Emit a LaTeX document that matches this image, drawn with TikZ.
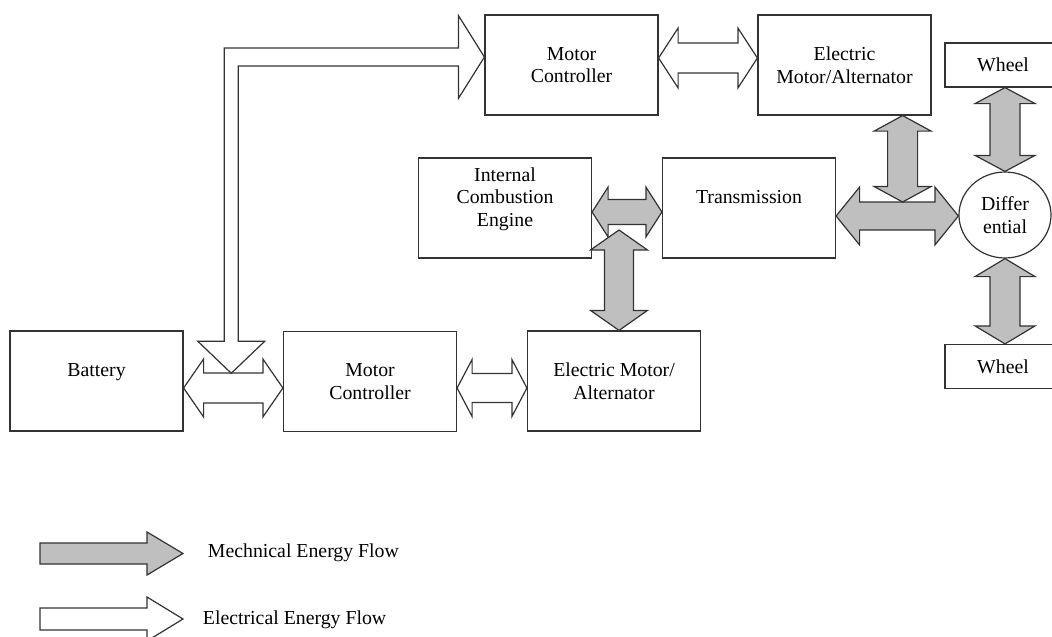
\documentclass[tikz,border=0pt]{standalone}
\usepackage{fontspec}
\setmainfont{Liberation Serif}
\usepackage{tikz}
\usetikzlibrary{shapes,arrows,positioning,calc}

% block arrows: style, first tip, second tip, shaft half, head half, head length
\newcommand{\hflow}[6]{\draw[#1] let \p1=(#2), \p2=(#3) in
  (\x1,\y1) -- (\x1+#6,\y1+#5) -- (\x1+#6,\y1+#4) -- (\x2-#6,\y1+#4) -- (\x2-#6,\y1+#5) -- (\x2,\y1)
  -- (\x2-#6,\y1-#5) -- (\x2-#6,\y1-#4) -- (\x1+#6,\y1-#4) -- (\x1+#6,\y1-#5) -- cycle;}
\newcommand{\vflow}[6]{\draw[#1] let \p1=(#2), \p2=(#3) in
  (\x1,\y1) -- (\x1+#5,\y1-#6) -- (\x1+#4,\y1-#6) -- (\x1+#4,\y2+#6) -- (\x1+#5,\y2+#6) -- (\x1,\y2)
  -- (\x1-#5,\y2+#6) -- (\x1-#4,\y2+#6) -- (\x1-#4,\y1-#6) -- (\x1-#5,\y1-#6) -- cycle;}
\newcommand{\sflow}[6]{\draw[#1] let \p1=(#2), \p2=(#3) in
  (\x1,\y1+#4) -- (\x2-#6,\y1+#4) -- (\x2-#6,\y1+#5) -- (\x2,\y1) -- (\x2-#6,\y1-#5) -- (\x2-#6,\y1-#4) -- (\x1,\y1-#4) -- cycle;}

\begin{document}
\begin{tikzpicture}[x=1pt, y=-1pt, line width=1.2pt,
					every node/.style={font=\fontsize{19.8}{22.5}\selectfont, align=center, text=black},
					block/.style={draw=black!80, rectangle, minimum width=173pt, minimum height=100pt},
					wheelbox/.style={draw=black!80, rectangle, minimum width=116pt, minimum height=44pt},
					lifted/.style={text depth=22pt},
					mech/.style={draw=black!80, fill=black!25, line join=miter},
					elec/.style={draw=black!80, fill=white, line join=miter}]
					\useasboundingbox (0,0) rectangle (1052,637);
					% blocks
					\node[block] (mct) at (571.5,65) {Motor\\Controller};
					\node[block] (emt) at (844.5,65) {Electric\\Motor/Alternator};
					\node[wheelbox] (wht) at (1003,65) {Wheel};
					\node[block, lifted] (ice) at (505,208) {Internal\\Combustion\\Engine};
					\node[block, lifted] (trans) at (749,208) {Transmission};
					\node[draw=black!80, ellipse, minimum width=92pt, minimum height=86pt, inner sep=0pt] (diff) at (1005,215) {Differ\\ential};
					\node[wheelbox] (whb) at (1003,366.5) {Wheel};
					\node[block, lifted] (bat) at (96.5,381) {Battery};
					\node[block] (mcb) at (370,381.5) {Motor\\Controller};
					\node[block] (emb) at (614,381) {Electric Motor/\\Alternator};
					\coordinate (engine-hub) at (619,230);
					\coordinate (drive-hub) at (902,202);
					% electrical flow
					\hflow{elec}{$(bat.east)+(0,7)$}{mcb.west}{15pt}{29pt}{20pt}
					\hflow{elec}{$(mcb.east)+(0,6.5)$}{emb.west}{14.5pt}{28.5pt}{15pt}
					\hflow{elec}{$(mct.east)+(0,-7)$}{emt.west}{15pt}{30pt}{19.5pt}
					\draw[elec] let \p1=($(mct.west)+(0,-8)$), \p2=($(bat.east)!0.48!(mcb.west)+(0,-8)$) in
						(\p1) -- (\x1-26pt,\y1+41.5pt) -- (\x1-26pt,\y1+9pt) -- (\x2-7pt,\y1+9pt) -- (\x2-7pt,\y2+32pt)
						-- (\x2-33.5pt,\y2+32pt) -- (\p2) -- (\x2+33.5pt,\y2+32pt) -- (\x2+7pt,\y2+32pt)
						-- (\x2+7pt,\y1-9pt) -- (\x1-26pt,\y1-9pt) -- (\x1-26pt,\y1-41.5pt) -- cycle;
					% mechanical flow
					\hflow{mech}{$(ice.east)+(0,4)$}{trans.west}{12.5pt}{25pt}{16pt}
					\vflow{mech}{engine-hub}{emb.north}{14.5pt}{28.5pt}{20pt}
					\hflow{mech}{$(trans.east)+(0,8)$}{diff.west}{14pt}{29pt}{23.5pt}
					\vflow{mech}{$(emt.south east)+(-29,0)$}{drive-hub}{15pt}{28.5pt}{15.5pt}
					\vflow{mech}{wht.south -| diff.north}{diff.north}{15pt}{30pt}{16pt}
					\vflow{mech}{diff.south}{whb.north}{15pt}{30pt}{18pt}
					% legend
					\coordinate (mech-tail) at (40,553.5);
					\coordinate (mech-tip) at (183,553.5);
					\coordinate (elec-tail) at (40,619);
					\coordinate (elec-tip) at (183,619);
					\sflow{mech}{mech-tail}{mech-tip}{10.5pt}{21.5pt}{36pt}
					\sflow{elec}{elec-tail}{elec-tip}{11pt}{22pt}{36pt}
					\node[anchor=west] (mech-key) at (204,553) {Mechnical Energy Flow};
					\node[anchor=west] (elec-key) at (199,620) {Electrical Energy Flow};
				\end{tikzpicture}
\end{document}
